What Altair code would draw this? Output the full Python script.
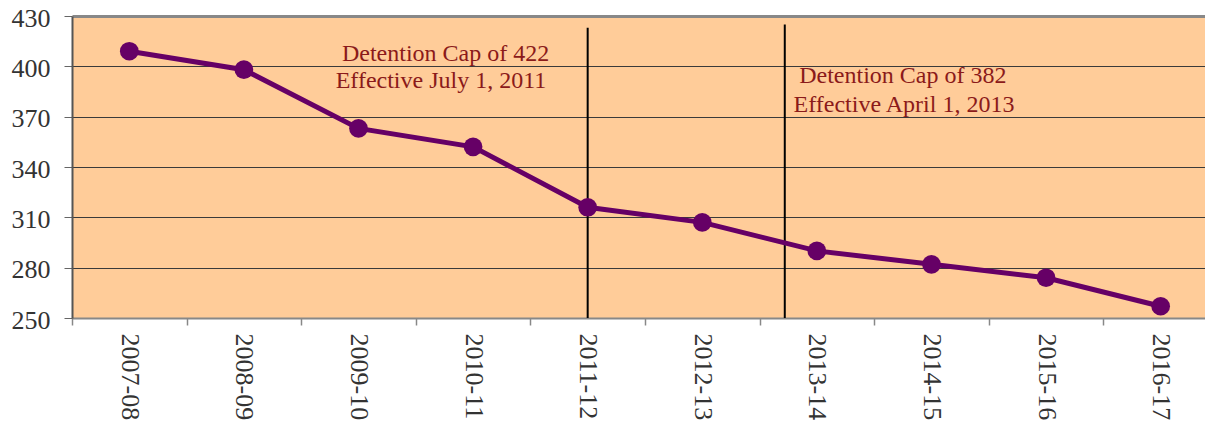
import altair as alt
import pandas as pd

# ---- data ----
years = ["2007-08", "2008-09", "2009-10", "2010-11", "2011-12",
         "2012-13", "2013-14", "2014-15", "2015-16", "2016-17"]
values = [409, 398, 363, 352, 316, 307, 290, 282, 274, 257]

cap_x = [4.0, 5.72]          # position of cap rules (in category index units)
cap_top = [423, 425]
cap_bottom = [250, 250]

note_text = ["Detention Cap of 422", "Effective July 1, 2011",
             "Detention Cap of 382", "Effective April 1, 2013"]
note_x = [2.76, 2.72, 6.75, 6.76]
note_y = [403.2, 387.1, 390.1, 373.0]

y_ticks = [250, 280, 310, 340, 370, 400, 430]

df = pd.DataFrame({"idx": list(range(len(years))), "year": years, "value": values})
rules = pd.DataFrame({"x": cap_x, "y": cap_bottom, "y2": cap_top})
notes = pd.DataFrame({"x": note_x, "y": note_y, "text": note_text})

label_arr = "[" + ",".join("'%s'" % y for y in years) + "]"
x_vals = [i / 2 - 0.5 for i in range(2 * len(years) + 1)]

FONT = "Liberation Serif"

x_scale = alt.Scale(domain=[-0.5, 9.387], nice=False, zero=False)
y_scale = alt.Scale(domain=[250, 430], nice=False, zero=False)

x_axis = alt.Axis(
    values=x_vals,
    labelExpr="datum.value % 1 === 0 ? " + label_arr + "[datum.value] : ''",
    labelAngle=90, labelAlign="left", labelBaseline="middle",
    labelFont=FONT, labelFontSize=26, labelColor="#333333",
    labelPadding=8, labelOverlap=False, labelFlush=False,
    tickSize=7, tickColor="#888888", tickWidth=1.5,
    tickOpacity={"condition": {"test": "datum.value % 1 === 0", "value": 0}, "value": 1},
    domainColor="#888888", domainWidth=2,
    grid=False, title=None,
)
y_axis = alt.Axis(
    values=y_ticks, labelFont=FONT, labelFontSize=26, labelColor="#333333",
    labelPadding=14, labelOffset=2, labelFlush=False, tickSize=8, tickColor="#666666",
    domainColor="#555555", domainWidth=2,
    grid=True,
    gridColor={"condition": {"test": "datum.value === 430", "value": "#888888"}, "value": "#3a3a3a"},
    gridWidth={"condition": {"test": "datum.value === 430", "value": 3}, "value": 1},
    title=None,
)

line = alt.Chart(df).mark_line(color="#660066", strokeWidth=5).encode(
    x=alt.X("idx:Q", scale=x_scale, axis=x_axis),
    y=alt.Y("value:Q", scale=y_scale, axis=y_axis),
)
pts = alt.Chart(df).mark_point(filled=True, color="#660066", size=350, opacity=1).encode(
    x=alt.X("idx:Q", scale=x_scale),
    y=alt.Y("value:Q", scale=y_scale),
)
rule = alt.Chart(rules).mark_rule(color="black", strokeWidth=2).encode(
    x=alt.X("x:Q", scale=x_scale),
    y=alt.Y("y:Q", scale=y_scale),
    y2="y2:Q",
)
text = alt.Chart(notes).mark_text(
    font=FONT, fontSize=24, color="#8B1A1A", align="center", baseline="alphabetic"
).encode(
    x=alt.X("x:Q", scale=x_scale),
    y=alt.Y("y:Q", scale=y_scale),
    text="text:N",
)

chart = alt.layer(rule, line, pts, text).properties(
    width=1133, height=302,
    autosize=alt.AutoSizeParams(type="none"),
    padding={"left": 64, "top": 8, "right": 0, "bottom": 103},
).configure_view(
    fill="#FFCC99", strokeWidth=0
)

chart.save("out.html", embed_options={"renderer": "svg", "actions": False})
